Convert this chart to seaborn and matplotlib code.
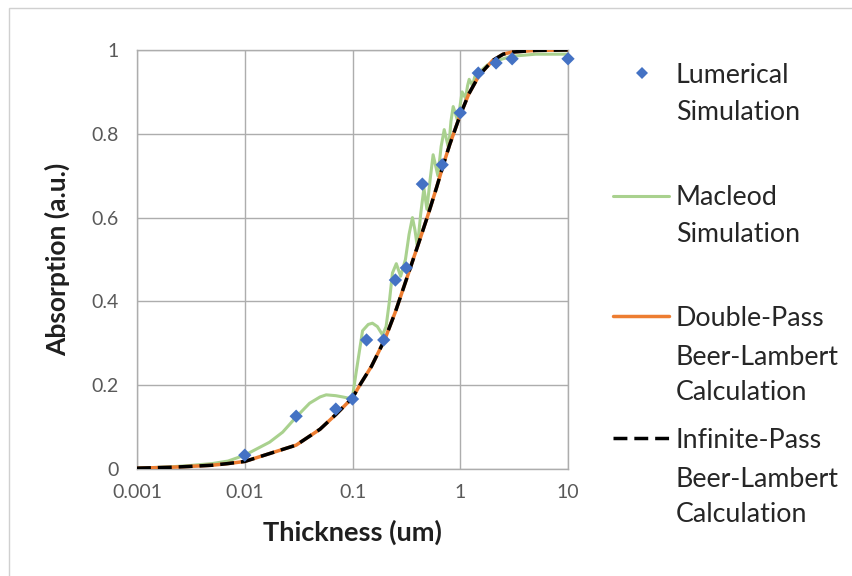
import matplotlib
matplotlib.use("Agg")
import matplotlib.pyplot as plt
from matplotlib.lines import Line2D
from matplotlib.patches import Rectangle
from matplotlib.ticker import NullLocator
import seaborn as sns

# ---------------- data ----------------
lum_x = [0.01, 0.03, 0.07, 0.1, 0.135, 0.195, 0.25, 0.316, 0.445, 0.68, 1.0, 1.47, 2.15, 3.03, 10.0]
lum_y = [0.033, 0.126, 0.143, 0.167, 0.308, 0.308, 0.451, 0.480, 0.680, 0.726, 0.850, 0.945, 0.969, 0.979, 0.979]

mac_x = [0.001, 0.002, 0.003, 0.005, 0.007, 0.01, 0.017, 0.0225, 0.03, 0.04, 0.05, 0.057, 0.07,
         0.081, 0.092, 0.1, 0.108, 0.124, 0.14, 0.153, 0.17, 0.19, 0.205, 0.22, 0.235, 0.255,
         0.28, 0.31, 0.335, 0.36, 0.38, 0.40, 0.43, 0.46, 0.49, 0.525, 0.56, 0.62, 0.665, 0.71,
         0.78, 0.82, 0.86, 0.95, 1.0, 1.04, 1.12, 1.17, 1.21, 1.3, 1.36, 1.41, 1.55, 1.8, 2.2,
         3.0, 5.0, 10.0]
mac_y = [0.002, 0.005, 0.008, 0.013, 0.019, 0.033, 0.064, 0.088, 0.124, 0.157, 0.172, 0.177, 0.175,
         0.172, 0.169, 0.172, 0.23, 0.33, 0.345, 0.348, 0.34, 0.32, 0.34, 0.40, 0.468, 0.49,
         0.46, 0.50, 0.56, 0.60, 0.57, 0.53, 0.61, 0.67, 0.62, 0.69, 0.75, 0.70, 0.77, 0.81,
         0.765, 0.83, 0.865, 0.83, 0.87, 0.90, 0.885, 0.915, 0.93, 0.915, 0.935, 0.945, 0.95, 0.965, 0.975,
         0.985, 0.99, 0.99]

dp_x = [0.001, 0.002, 0.003, 0.005, 0.007, 0.01, 0.03, 0.05, 0.07, 0.1, 0.12, 0.15, 0.2, 0.25,
        0.3, 0.4, 0.5, 0.6, 0.7, 0.8, 1.0, 1.2, 1.5, 2.0, 2.5, 3.0, 5.0, 10.0]
dp_y = [0.002, 0.004, 0.006, 0.009, 0.013, 0.018, 0.057, 0.095, 0.13, 0.17, 0.205, 0.245, 0.31, 0.375,
        0.435, 0.53, 0.605, 0.67, 0.728, 0.775, 0.845, 0.895, 0.94, 0.975, 0.99, 0.995, 0.999, 1.0]

ip_x = [0.001, 0.002, 0.003, 0.005, 0.007, 0.01, 0.03, 0.05, 0.07, 0.1, 0.12, 0.15, 0.2, 0.25,
        0.3, 0.4, 0.5, 0.6, 0.7, 0.8, 1.0, 1.2, 1.5, 2.0, 2.5, 3.0, 5.0, 10.0]
ip_y = [0.002, 0.004, 0.006, 0.009, 0.013, 0.018, 0.057, 0.095, 0.13, 0.17, 0.205, 0.245, 0.31, 0.375,
        0.435, 0.53, 0.605, 0.67, 0.728, 0.775, 0.845, 0.895, 0.94, 0.975, 0.99, 0.995, 0.999, 1.0]

x_ticks = [0.001, 0.01, 0.1, 1, 10]
x_tick_labels = ["0.001", "0.01", "0.1", "1", "10"]
y_ticks = [0, 0.2, 0.4, 0.6, 0.8, 1.0]
y_tick_labels = ["0", "0.2", "0.4", "0.6", "0.8", "1"]

legend_labels = [["Lumerical", "Simulation"],
                 ["Macleod", "Simulation"],
                 ["Double-Pass", "Beer-Lambert", "Calculation"],
                 ["Infinite-Pass", "Beer-Lambert", "Calculation"]]

# ---------------- style ----------------
sns.set_theme(style="white")
plt.rcParams['font.family'] = ['Lato', 'DejaVu Sans']

BLUE = '#4472C4'
GREEN = '#A9D18E'
ORANGE = '#ED7D31'
GRID = '#ADADAD'
DASH = (0, (4, 2))

W, H = 852, 576
fig = plt.figure(figsize=(W / 100, H / 100), dpi=100)
x0, x1, y0, y1 = 137, 568, 469, 50
ax = fig.add_axes([x0 / W, 1 - y0 / H, (x1 - x0) / W, (y0 - y1) / H])

sns.lineplot(x=mac_x, y=mac_y, ax=ax, color=GREEN, lw=2.2, sort=False, estimator=None, zorder=2)
sns.lineplot(x=dp_x, y=dp_y, ax=ax, color=ORANGE, lw=2.5, sort=False, estimator=None, zorder=3)
sns.lineplot(x=ip_x, y=ip_y, ax=ax, color='black', lw=2.5, linestyle=DASH, sort=False,
             estimator=None, zorder=4)
sns.scatterplot(x=lum_x, y=lum_y, ax=ax, marker='D', s=46, color=BLUE, edgecolor='none',
                zorder=5, clip_on=False)

ax.set_xscale('log')
ax.set_xlim(0.001, 10)
ax.set_ylim(0, 1)
ax.set_xticks(x_ticks)
ax.set_xticklabels(x_tick_labels)
ax.xaxis.set_minor_locator(NullLocator())
ax.set_yticks(y_ticks)
ax.set_yticklabels(y_tick_labels)

ax.grid(True, color=GRID, lw=1)
ax.set_axisbelow(True)
for s in ax.spines.values():
    s.set_color(GRID)
    s.set_linewidth(1)
ax.tick_params(axis='both', direction='out', length=5, width=1, color=GRID,
               labelcolor='#595959', labelsize=14)
ax.tick_params(axis='y', pad=8)
ax.tick_params(axis='x', pad=6)

ax.set_xlabel('Thickness (um)', fontsize=19.5, fontweight='bold', color='#1F1F1F')
ax.xaxis.set_label_coords(0.5, (y0 - 520) / (y0 - y1))
ax.set_ylabel('Absorption (a.u.)', fontsize=19, fontweight='bold', color='#1F1F1F')
ax.yaxis.set_label_coords((70 - x0) / (x1 - x0), 0.5)

# ---------------- legend (manual layout, like Excel) ----------------
def fx(px):
    return px / W

def fy(py):
    return 1 - py / H

handle_y = [73, 196, 316, 438]
baselines = [[83, 120], [205, 242], [326, 365, 400], [448, 487, 522]]
fig.add_artist(Line2D([fx(641.5)], [fy(handle_y[0])], marker='D', markersize=6.5, color=BLUE,
                      markeredgewidth=0, linestyle='none', transform=fig.transFigure))
fig.add_artist(Line2D([fx(613), fx(669)], [fy(handle_y[1])] * 2, color=GREEN, lw=2.2,
                      transform=fig.transFigure))
fig.add_artist(Line2D([fx(613), fx(669)], [fy(handle_y[2])] * 2, color=ORANGE, lw=2.5,
                      transform=fig.transFigure))
fig.add_artist(Line2D([fx(613), fx(669)], [fy(handle_y[3])] * 2, color='black', lw=2.5,
                      linestyle=DASH, transform=fig.transFigure))
for lines, bls in zip(legend_labels, baselines):
    for txt, b in zip(lines, bls):
        fig.text(fx(676), fy(b), txt, fontsize=19.3, color='#262626', ha='left', va='baseline')

# chart border
fig.add_artist(Rectangle((9 / W, -0.1), 1.2, 1 - 8 / H + 0.1, transform=fig.transFigure,
                         fill=False, edgecolor='#D0D0D0', lw=1))

fig.savefig('out.png', dpi=100)
